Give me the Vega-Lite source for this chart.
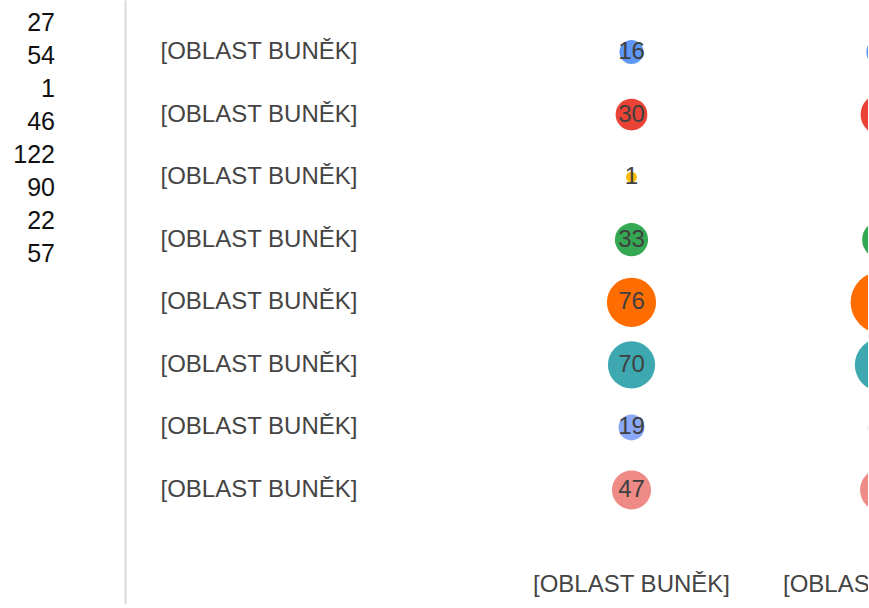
{
  "$schema": "https://vega.github.io/schema/vega-lite/v6.json",
  "padding": 0,
  "background": "white",
  "spacing": 15,
  "config": {
    "view": {"stroke": null},
    "text": {"font": "Liberation Sans"}
  },
  "datasets": {
    "cells": [
      {"row": 1, "col": 1, "value": 16, "color": "#5e97f6"},
      {"row": 2, "col": 1, "value": 30, "color": "#ea4335"},
      {"row": 3, "col": 1, "value": 1, "color": "#fbbc04"},
      {"row": 4, "col": 1, "value": 33, "color": "#34a853"},
      {"row": 5, "col": 1, "value": 76, "color": "#ff6d01"},
      {"row": 6, "col": 1, "value": 70, "color": "#3ea8b0"},
      {"row": 7, "col": 1, "value": 19, "color": "#8aa8f5"},
      {"row": 8, "col": 1, "value": 47, "color": "#ee8b87"},
      {"row": 1, "col": 2, "value": 27, "color": "#5e97f6"},
      {"row": 2, "col": 2, "value": 54, "color": "#ea4335"},
      {"row": 3, "col": 2, "value": 1, "color": "#fbbc04"},
      {"row": 4, "col": 2, "value": 46, "color": "#34a853"},
      {"row": 5, "col": 2, "value": 122, "color": "#ff6d01"},
      {"row": 6, "col": 2, "value": 90, "color": "#3ea8b0"},
      {"row": 7, "col": 2, "value": 22, "color": "#8aa8f5"},
      {"row": 8, "col": 2, "value": 57, "color": "#ee8b87"}
    ],
    "rows": [
      {"row": 1, "label": "[OBLAST BUNĚK]"},
      {"row": 2, "label": "[OBLAST BUNĚK]"},
      {"row": 3, "label": "[OBLAST BUNĚK]"},
      {"row": 4, "label": "[OBLAST BUNĚK]"},
      {"row": 5, "label": "[OBLAST BUNĚK]"},
      {"row": 6, "label": "[OBLAST BUNĚK]"},
      {"row": 7, "label": "[OBLAST BUNĚK]"},
      {"row": 8, "label": "[OBLAST BUNĚK]"}
    ],
    "columns": [
      {"col": 1, "label": "[OBLAST BUNĚK]"},
      {"col": 2, "label": "[OBLAST BUNĚK]"}
    ]
  },
  "hconcat": [
    {
      "width": 110,
      "height": {"step": 33},
      "data": {"name": "cells"},
      "transform": [{"filter": "datum.col == 2"}],
      "mark": {"type": "text", "align": "right", "baseline": "middle", "fontSize": 25, "color": "#111111"},
      "encoding": {
        "y": {"field": "row", "type": "ordinal", "axis": null, "scale": {"padding": 0.697}},
        "text": {"field": "value", "type": "quantitative"}
      }
    },
    {
      "width": 743,
      "height": 604,
      "layer": [
        {
          "data": {"name": "rows"},
          "mark": {"type": "text", "align": "left", "baseline": "middle", "fontSize": 24, "color": "#444444"},
          "encoding": {
            "x": {"datum": -0.884, "type": "quantitative", "scale": {"domain": [-1.026, 1.946], "nice": false, "zero": false}, "axis": null},
            "y": {"field": "row", "type": "quantitative", "scale": {"domain": [0.169, 9.822], "reverse": true, "nice": false, "zero": false},
                  "axis": {"domain": true, "domainColor": "#d9d9d9", "domainWidth": 2, "ticks": false, "labels": false, "grid": false, "title": null}},
            "text": {"field": "label", "type": "nominal"}
          }
        },
        {
          "data": {"name": "cells"},
          "mark": {"type": "circle", "opacity": 1, "clip": true},
          "encoding": {
            "x": {"field": "col", "type": "quantitative", "scale": {"domain": [-1.026, 1.946], "nice": false, "zero": false}, "axis": null},
            "y": {"field": "row", "type": "quantitative", "scale": {"domain": [0.169, 9.822], "reverse": true, "nice": false, "zero": false},
                  "axis": {"domain": true, "domainColor": "#d9d9d9", "domainWidth": 2, "ticks": false, "labels": false, "grid": false, "title": null}},
            "size": {"field": "value", "type": "quantitative", "scale": {"domain": [0, 122], "range": [90, 3830], "zero": false}, "legend": null},
            "color": {"field": "color", "type": "nominal", "scale": null}
          }
        },
        {
          "data": {"name": "cells"},
          "transform": [{"filter": "datum.col == 1"}],
          "mark": {"type": "text", "align": "center", "baseline": "middle", "fontSize": 24, "color": "#404040", "clip": true},
          "encoding": {
            "x": {"field": "col", "type": "quantitative", "scale": {"domain": [-1.026, 1.946], "nice": false, "zero": false}, "axis": null},
            "y": {"field": "row", "type": "quantitative", "scale": {"domain": [0.169, 9.822], "reverse": true, "nice": false, "zero": false},
                  "axis": {"domain": true, "domainColor": "#d9d9d9", "domainWidth": 2, "ticks": false, "labels": false, "grid": false, "title": null}},
            "text": {"field": "value", "type": "quantitative"}
          }
        },
        {
          "data": {"name": "columns"},
          "mark": {"type": "text", "align": "center", "baseline": "middle", "fontSize": 24, "color": "#444444", "clip": true},
          "encoding": {
            "x": {"field": "col", "type": "quantitative", "scale": {"domain": [-1.026, 1.946], "nice": false, "zero": false}, "axis": null},
            "y": {"datum": 9.518, "type": "quantitative", "scale": {"domain": [0.169, 9.822], "reverse": true, "nice": false, "zero": false},
                  "axis": {"domain": true, "domainColor": "#d9d9d9", "domainWidth": 2, "ticks": false, "labels": false, "grid": false, "title": null}},
            "text": {"field": "label", "type": "nominal"}
          }
        }
      ]
    }
  ]
}
